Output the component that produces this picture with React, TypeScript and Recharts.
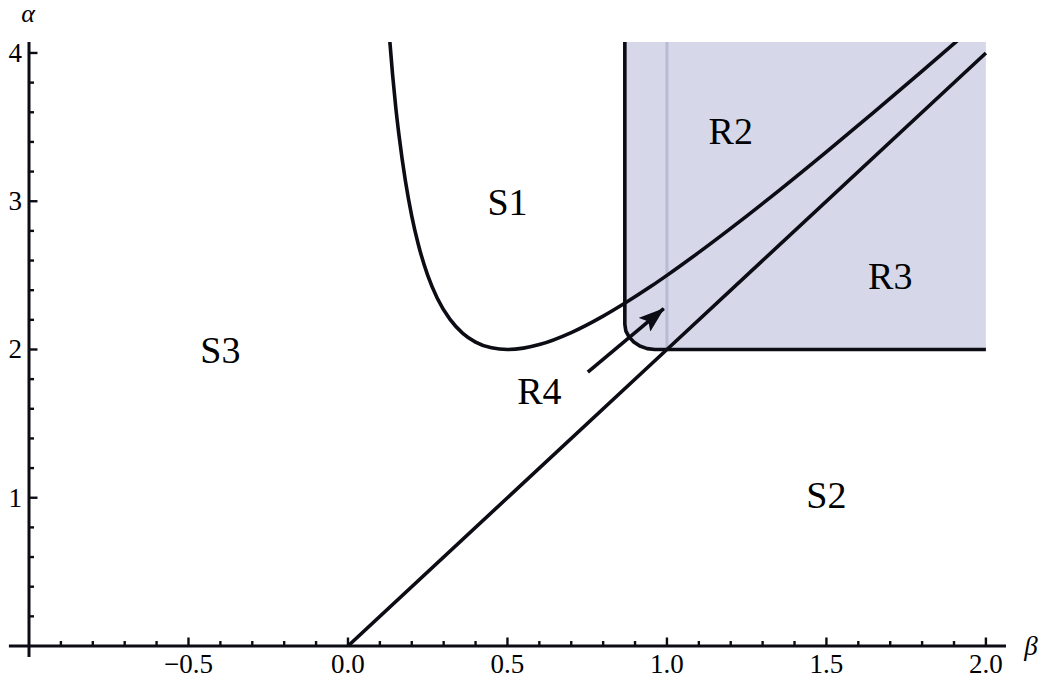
import React from 'react';
import { ComposedChart, XAxis, YAxis, Line, Area, ReferenceLine, ReferenceDot } from 'recharts';

// Axis ticks
const xMinorTicks = [-0.9, -0.8, -0.7, -0.6, -0.4, -0.3, -0.2, -0.1, 0.1, 0.2, 0.3, 0.4, 0.6, 0.7, 0.8, 0.9, 1.1, 1.2, 1.3, 1.4, 1.6, 1.7, 1.8, 1.9];
const xMajorTicks = [-0.5, 0, 0.5, 1, 1.5, 2];
const xMajorLabels = ['\u22120.5', '0.0', '0.5', '1.0', '1.5', '2.0'];
const yMinorTicks = [0.2, 0.4, 0.6, 0.8, 1.2, 1.4, 1.6, 1.8, 2.2, 2.4, 2.6, 2.8, 3.2, 3.4, 3.6, 3.8];
const yMajorTicks = [1, 2, 3, 4];
const yMajorLabels = ['1', '2', '3', '4'];

const betaDomain: [number, number] = [-1, 2.063];
const alphaDomain: [number, number] = [0, 4.074];
const betaAxisStart = -1.063;
const alphaAxisStart = -0.074;

// Curve bounding S1
const curveBeta = [0.13, 0.14, 0.15, 0.16, 0.18, 0.2, 0.22, 0.25, 0.28, 0.32, 0.36, 0.4, 0.45, 0.5, 0.55, 0.6, 0.7, 0.8, 0.87, 0.95, 1.0, 1.1, 1.2, 1.35, 1.5, 1.65, 1.8, 1.95];
const curveAlpha = [4.11, 3.85, 3.63, 3.445, 3.138, 2.9, 2.713, 2.5, 2.346, 2.203, 2.109, 2.05, 2.011, 2.0, 2.009, 2.033, 2.114, 2.225, 2.315, 2.426, 2.5, 2.655, 2.817, 3.07, 3.333, 3.603, 3.878, 4.156];

// Straight line alpha = 2 beta
const diagBeta = [0, 1, 2];
const diagAlpha = [0, 2, 4];

// Shaded region (lower boundary with rounded corner)
const regionBeta = [0.868, 0.871, 0.881, 0.896, 0.915, 0.938, 0.962, 2.0];
const regionLow = [2.17, 2.126, 2.085, 2.05, 2.023, 2.006, 2.0, 2.0];
const regionTop = 4.2;

// Faint divider inside region
const dividerBeta = 1.0;
const dividerAlphaFrom = 2.0;

// Arrow pointing to R4
const arrowBeta = [0.752, 0.99];
const arrowAlpha = [1.848, 2.275];

// Region labels
const regionNames = ['S1', 'S2', 'S3', 'R2', 'R3', 'R4'];
const labelBeta = [0.5, 1.5, -0.4, 1.2, 1.7, 0.6];
const labelAlpha = [3.0, 1.02, 2.0, 3.48, 2.5, 1.72];

const FONT = "'Times New Roman', 'Liberation Serif', Times, serif";
const INK = '#0c0c14';
const LW = 3.6;

const zip = (xs: number[], ys: number[]) => xs.map((x, i) => ({ x, y: ys[i] }));

const curveData = zip(curveBeta, curveAlpha);
const diagData = zip(diagBeta, diagAlpha);
const arrowData = zip(arrowBeta, arrowAlpha);
const regionFill = regionBeta.map((x, i) => ({ x, range: [regionLow[i], regionTop] }));
const regionBorder = [{ x: regionBeta[0], y: regionTop }, ...zip(regionBeta, regionLow)];

const xTicks = [...xMinorTicks, ...xMajorTicks].sort((a, b) => a - b);
const yTicks = [...yMinorTicks, ...yMajorTicks].sort((a, b) => a - b);

const findIdx = (arr: number[], v: number) => arr.findIndex((t) => Math.abs(t - v) < 1e-9);

const XTick = (props: any) => {
  const { x, y, payload } = props;
  const i = findIdx(xMajorTicks, payload.value);
  const major = i >= 0;
  return (
    <g>
      <line x1={x} x2={x} y1={y} y2={y - (major ? 8.5 : 5)} stroke={INK} strokeWidth={2.4} />
      {major && (
        <text x={x} y={y + 27} textAnchor="middle" style={{ fontFamily: FONT }} fontSize={27} fill="#000">
          {xMajorLabels[i]}
        </text>
      )}
    </g>
  );
};

const YTick = (props: any) => {
  const { x, y, payload } = props;
  const i = findIdx(yMajorTicks, payload.value);
  const major = i >= 0;
  return (
    <g>
      <line x1={x} x2={x + (major ? 8.5 : 5)} y1={y} y2={y} stroke={INK} strokeWidth={2.4} />
      {major && (
        <text x={x - 7} y={y + 9} textAnchor="end" style={{ fontFamily: FONT }} fontSize={27} fill="#000">
          {yMajorLabels[i]}
        </text>
      )}
    </g>
  );
};

export default function App() {
  return (
    <div style={{ position: 'absolute', left: 0, top: 0, width: 1042, height: 684, background: '#fff', fontFamily: FONT }}>
      <ComposedChart width={1042} height={684} margin={{ top: 42, right: 36, bottom: 0, left: 0 }}>
        <defs>
          <marker id="arrowHead" markerUnits="userSpaceOnUse" markerWidth={26} markerHeight={18} viewBox="0 0 26 18" refX={25} refY={9} orient="auto">
            <path d="M0,0 L26,9 L0,18 L5,9 Z" fill={INK} />
          </marker>
        </defs>
        <XAxis
          type="number"
          dataKey="x"
          domain={betaDomain}
          allowDataOverflow
          ticks={xTicks}
          interval={0}
          tickLine={false}
          tickSize={0}
          tickMargin={0}
          height={38}
          axisLine={{ stroke: INK, strokeWidth: 3 }}
          tick={<XTick />}
        />
        <YAxis
          type="number"
          dataKey="y"
          domain={alphaDomain}
          allowDataOverflow
          ticks={yTicks}
          interval={0}
          tickLine={false}
          tickSize={0}
          tickMargin={0}
          width={29}
          axisLine={{ stroke: INK, strokeWidth: 3 }}
          tick={<YTick />}
        />
        <ReferenceLine segment={[{ x: betaAxisStart, y: 0 }, { x: betaDomain[0], y: 0 }]} ifOverflow="visible" stroke={INK} strokeWidth={3} />
        <ReferenceLine segment={[{ x: betaDomain[0], y: alphaAxisStart }, { x: betaDomain[0], y: 0 }]} ifOverflow="visible" stroke={INK} strokeWidth={3} />

        <Area data={regionFill} dataKey="range" type="linear" stroke="none" fill="#d6d8ea" fillOpacity={1} isAnimationActive={false} />
        <ReferenceLine segment={[{ x: dividerBeta, y: dividerAlphaFrom }, { x: dividerBeta, y: regionTop }]} ifOverflow="hidden" stroke="#b9bbd4" strokeWidth={3} />
        <Line data={regionBorder} dataKey="y" type="linear" stroke={INK} strokeWidth={LW} dot={false} strokeLinejoin="round" isAnimationActive={false} />
        <Line data={curveData} dataKey="y" type="monotone" stroke={INK} strokeWidth={LW} dot={false} isAnimationActive={false} />
        <Line data={diagData} dataKey="y" type="linear" stroke={INK} strokeWidth={LW} dot={false} isAnimationActive={false} />
        <Line data={arrowData} dataKey="y" type="linear" stroke={INK} strokeWidth={LW} dot={false} markerEnd="url(#arrowHead)" isAnimationActive={false} />

        {regionNames.map((name, i) => (
          <ReferenceDot
            key={name}
            x={labelBeta[i]}
            y={labelAlpha[i]}
            r={0}
            fill="none"
            stroke="none"
            ifOverflow="visible"
            label={{ value: name, position: 'center', fontSize: 38, style: { fontFamily: FONT }, fill: '#000' }}
          />
        ))}

        <text x={28} y={22} textAnchor="middle" style={{ fontFamily: FONT, fontStyle: 'italic' }} fontSize={26} fill="#000">α</text>
        <text x={1031} y={655} textAnchor="middle" style={{ fontFamily: FONT, fontStyle: 'italic' }} fontSize={27} fill="#000">β</text>
      </ComposedChart>
    </div>
  );
}
